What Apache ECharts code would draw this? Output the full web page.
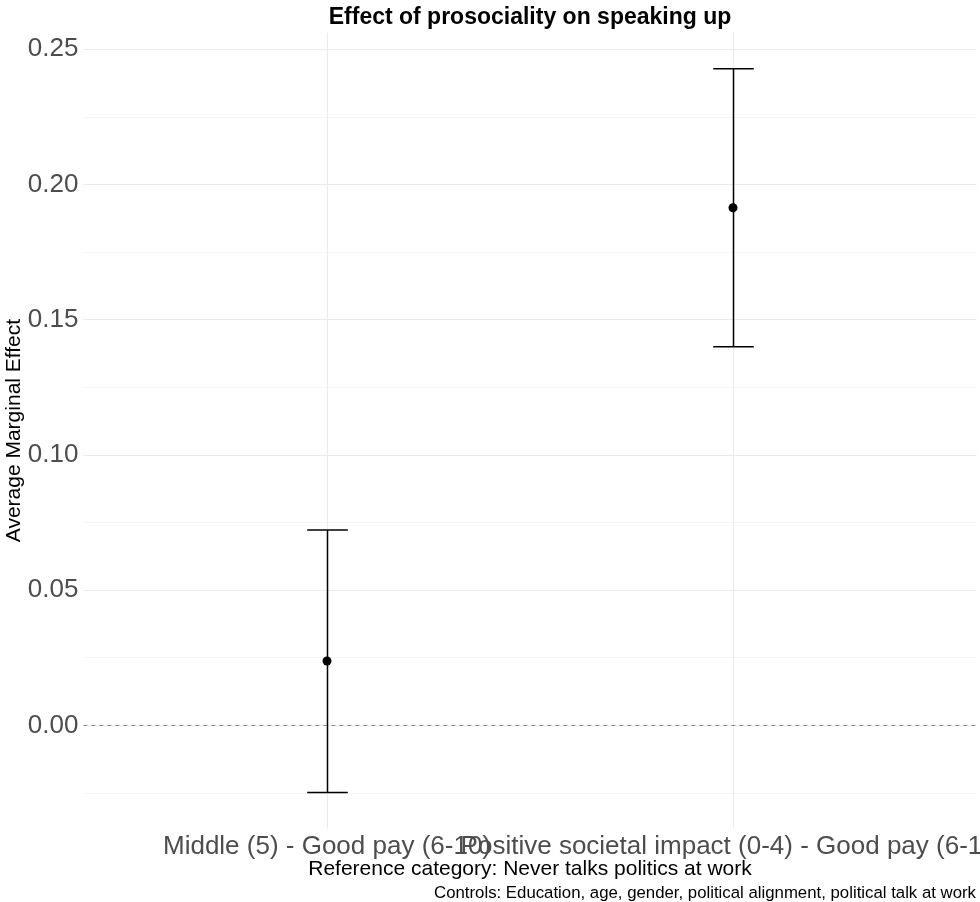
<!DOCTYPE html>
<html>
<head>
<meta charset="utf-8">
<script src="https://cdn.jsdelivr.net/npm/echarts@6/dist/echarts.min.js"></script>
<style>
  html, body { margin: 0; padding: 0; background: #fff; }
  #chart { width: 980px; height: 902px; }
</style>
</head>
<body>
<div id="chart"></div>
<script>
// Average marginal effects with 95% confidence intervals
const categories = ['Middle (5) - Good pay (6-10)', 'Positive societal impact (0-4) - Good pay (6-10)'];
const estimates = [0.0238, 0.1914];
const lowerCI = [-0.0248, 0.1400];
const upperCI = [0.0722, 0.2428];
const yMajorTicks = [0, 0.05, 0.10, 0.15, 0.20, 0.25];
const yMinorTicks = [-0.025, 0.025, 0.075, 0.125, 0.175, 0.225];

const titleText = 'Effect of prosociality on speaking up';
const yTitle = 'Average Marginal Effect';
const xTitle = 'Reference category: Never talks politics at work';
const captionText = 'Controls: Education, age, gender, political alignment, political talk at work';

const FONT = 'Liberation Sans, Arial, Helvetica, sans-serif';

// ggplot-style 5% padding around the data range
const lo = Math.min(...lowerCI), hi = Math.max(...upperCI);
const pad = (hi - lo) * 0.05;
const yMin = lo - pad, yMax = hi + pad;

const xPos = categories.map((c, i) => i + 1);

const chart = echarts.init(document.getElementById('chart'), null, { renderer: 'canvas' });

const gridLines = [];
yMajorTicks.forEach(v => gridLines.push({ yAxis: v, lineStyle: { color: '#ebebeb', width: 1.1, type: 'solid' } }));
yMinorTicks.forEach(v => gridLines.push({ yAxis: v, lineStyle: { color: '#f2f2f2', width: 0.8, type: 'solid' } }));
xPos.forEach(v => gridLines.push({ xAxis: v, lineStyle: { color: '#ebebeb', width: 1.1, type: 'solid' } }));

// one bottom x axis per category so the long, overlapping labels are all kept
const xAxes = xPos.map((pos, i) => ({
  type: 'value',
  gridIndex: 0,
  position: 'bottom',
  offset: 0,
  min: 0.4, max: 2.6,
  axisLine: { show: false },
  axisTick: { show: false },
  splitLine: { show: false },
  axisLabel: {
    customValues: [pos],
    formatter: v => categories[Math.round(v) - 1] || '',
    fontFamily: FONT, fontSize: 26, color: '#4d4d4d', margin: 5,
    hideOverlap: false
  },
  name: i === 0 ? xTitle : '',
  nameLocation: 'middle',
  nameGap: 30,
  nameMoveOverlap: false,
  nameTextStyle: { fontFamily: FONT, fontSize: 21, color: '#000' }
}));

chart.setOption({
  animation: false,
  backgroundColor: '#ffffff',
  title: [
    {
      text: titleText,
      left: 530, top: 6, textAlign: 'center', padding: 0,
      textStyle: { fontFamily: FONT, fontSize: 23, fontWeight: 'bold', color: '#000' }
    },
    {
      text: captionText,
      right: 4, bottom: 0, padding: 0,
      textStyle: { fontFamily: FONT, fontSize: 16.8, fontWeight: 'normal', color: '#000' }
    }
  ],
  grid: { left: 83.4, right: 3.4, top: 32.5, bottom: 73.4, containLabel: false, outerBoundsMode: 'none' },
  xAxis: xAxes,
  yAxis: {
    type: 'value',
    min: yMin, max: yMax,
    axisLine: { show: false },
    axisTick: { show: false },
    splitLine: { show: false },
    axisLabel: {
      customValues: yMajorTicks,
      formatter: v => v.toFixed(2),
      fontFamily: FONT, fontSize: 26, color: '#4d4d4d', margin: 5
    },
    name: yTitle,
    nameLocation: 'middle',
    nameGap: 59,
    nameMoveOverlap: false,
    nameTextStyle: { fontFamily: FONT, fontSize: 21, color: '#000' }
  },
  series: [
    {
      // panel grid lines and zero reference line
      type: 'line',
      data: [],
      silent: true,
      z: 1,
      markLine: {
        z: 1,
        silent: true,
        precision: 4,
        symbol: ['none', 'none'],
        label: { show: false },
        animation: false,
        data: gridLines.concat([
          { yAxis: 0, lineStyle: { color: '#8c8c8c', width: 1, type: [4, 4] } }
        ])
      }
    },
    {
      // confidence interval whiskers with caps
      type: 'custom',
      z: 10,
      data: xPos.map((x, i) => [x, lowerCI[i], upperCI[i]]),
      renderItem: (params, api) => {
        const x = api.value(0);
        const pLo = api.coord([x, api.value(1)]);
        const pHi = api.coord([x, api.value(2)]);
        const cx = Math.floor(pLo[0]) + 0.5;
        const capHalf = api.size([0.05, 0])[0];
        const style = { stroke: '#000', lineWidth: 1.5 };
        return {
          type: 'group',
          children: [
            { type: 'line', shape: { x1: cx, y1: pLo[1], x2: cx, y2: pHi[1] }, style },
            { type: 'line', shape: { x1: cx - capHalf, y1: pHi[1], x2: cx + capHalf, y2: pHi[1] }, style },
            { type: 'line', shape: { x1: cx - capHalf, y1: pLo[1], x2: cx + capHalf, y2: pLo[1] }, style }
          ]
        };
      }
    },
    {
      // point estimates
      type: 'scatter',
      z: 11,
      symbol: 'circle',
      symbolSize: 9,
      itemStyle: { color: '#000', opacity: 1 },
      data: xPos.map((x, i) => [x, estimates[i]])
    }
  ]
});
</script>
</body>
</html>
